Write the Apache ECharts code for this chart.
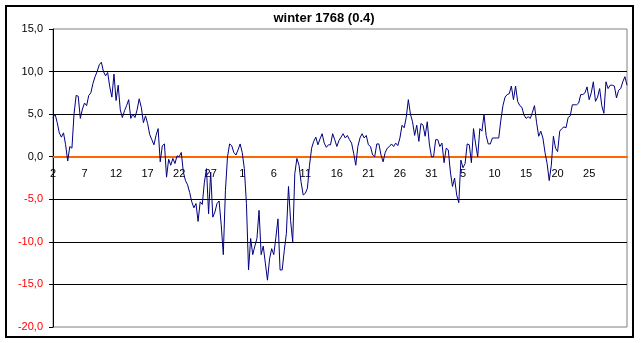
<!DOCTYPE html>
<html>
<head>
<meta charset="utf-8">
<script src="https://cdn.jsdelivr.net/npm/echarts@6/dist/echarts.min.js"></script>
<style>
  html, body { margin: 0; padding: 0; background: #fff; }
  #chart { width: 642px; height: 343px; }
</style>
</head>
<body>
<div id="chart"></div>
<script>
const chartTitle = "winter 1768 (0.4)";

// three readings a day, starting 2 December
const months = [
  { start: 2, days: 31 },
  { start: 1, days: 31 },
  { start: 1, days: 29 },
  { start: 1, days: 31 }
];
const readingsPerDay = 3;
const labelEvery = 15;

const temps = [
  4.6, 5.0, 4.0, 2.8, 2.3, 2.8, 1.4, -0.5, 1.2, 1.0,
  5.0, 7.2, 7.1, 4.5, 5.6, 6.3, 6.0, 7.2, 7.5, 8.6,
  9.4, 10.0, 10.8, 11.1, 10.0, 9.5, 9.9, 8.2, 7.0, 9.7,
  6.6, 8.4, 5.5, 4.6, 5.4, 6.0, 6.7, 4.5, 5.0, 4.6,
  5.5, 6.8, 5.8, 4.0, 4.8, 3.9, 2.6, 2.0, 1.4, 2.5,
  3.3, -0.6, 1.3, 1.5, -2.4, -0.3, -1.0, -0.2, -0.8, 0.1,
  0.0, 0.5, -1.8, -2.8, -3.3, -4.2, -5.3, -6.0, -5.5, -7.6,
  -5.3, -5.6, -3.0, -1.4, -6.7, -1.8, -7.1, -6.5, -5.5, -5.2,
  -8.0, -11.5, -4.0, 0.0, 1.5, 1.3, 0.5, 0.2, 0.8, 1.5,
  0.5, -1.4, -5.5, -13.3, -9.6, -11.5, -10.5, -9.6, -6.3, -11.5,
  -10.5, -12.5, -14.5, -12.0, -10.8, -11.5, -9.5, -7.3, -13.3, -13.3,
  -11.0, -9.0, -3.5, -7.5, -10.0, -2.0, -0.2, -1.0, -3.0, -4.5,
  -4.3, -3.7, -1.0, 1.0, 1.8, 2.3, 1.4, 2.1, 2.7, 1.6,
  1.1, 1.4, 1.4, 2.7, 2.0, 1.2, 1.9, 2.3, 2.7, 2.2,
  2.5, 2.0, 1.6, 0.4, -1.0, 1.2, 2.2, 2.7, 2.2, 2.5,
  1.4, 1.2, 0.2, 0.0, 1.5, 1.5, 0.2, -0.6, 0.5, 1.0,
  1.2, 1.5, 1.2, 1.6, 1.3, 2.2, 3.7, 3.4, 4.6, 6.7,
  5.0, 4.1, 2.5, 3.7, 1.8, 3.9, 3.7, 2.4, 4.1, 1.5,
  0.0, 0.0, 2.0, 2.0, 1.2, 1.6, -0.7, 1.0, 0.8, -1.8,
  -3.5, -2.5, -4.5, -5.4, -0.4, -1.3, -0.8, 1.5, 1.4, -0.7,
  3.3, 1.5, 0.0, 3.3, 3.0, 5.0, 2.5, 1.5, 1.5, 2.2,
  2.2, 2.2, 2.2, 4.3, 6.0, 7.0, 7.3, 7.4, 8.3, 6.7,
  8.3, 6.5, 6.0, 5.8, 4.9, 4.5, 4.7, 4.5, 5.2, 6.0,
  4.0, 2.4, 3.0, 2.2, 0.5, -0.8, -2.8, -1.0, 2.4, 1.0,
  0.6, 3.0, 3.3, 3.5, 3.4, 4.6, 4.8, 6.1, 6.1, 6.1,
  6.3, 7.3, 7.3, 7.5, 8.2, 6.7, 7.5, 8.8, 6.5, 7.0,
  8.0, 6.0, 5.1, 8.8, 8.0, 8.4, 8.4, 8.3, 6.9, 7.8,
  8.0, 8.8, 9.4, 8.4
];

const yMin = -20, yMax = 15, yStep = 5;

function buildDayLabels() {
  const out = [];
  months.forEach(m => {
    for (let d = m.start; d <= m.days; d++) {
      for (let k = 0; k < readingsPerDay; k++) out.push(String(d));
    }
  });
  return out.slice(0, temps.length);
}

const chart = echarts.init(document.getElementById("chart"));
const days = buildDayLabels();
const lastLabel = temps.length - 4;

// grid geometry, so the category axis can sit on the zero line
const gridTop = 29, gridBottom = 16;
const plotHeight = 343 - gridTop - gridBottom;
const zeroOffset = -plotHeight * (0 - yMin) / (yMax - yMin);

chart.setOption({
  animation: false,
  backgroundColor: "#fff",
  title: {
    text: chartTitle,
    left: 319,
    top: 7,
    textAlign: "center",
    textStyle: { fontFamily: "Arial, Liberation Sans", fontSize: 13, fontWeight: "bold", color: "#000" }
  },
  graphic: [{
    type: "rect",
    shape: { x: 6, y: 6, width: 627, height: 331 },
    style: { fill: null, stroke: "#000", lineWidth: 2 },
    silent: true
  }],
  grid: {
    left: 53, top: gridTop, right: 15, bottom: gridBottom,
    outerBoundsMode: "none",
    containLabel: false,
    show: true, borderColor: "#808080", borderWidth: 1
  },
  xAxis: {
    type: "category",
    data: days,
    boundaryGap: false,
    offset: zeroOffset,
    axisLine: { onZero: false, lineStyle: { color: "#ff6600", width: 2 } },
    axisTick: { show: false },
    axisLabel: {
      interval: (i) => i % labelEvery === 0 && i < lastLabel,
      margin: 12,
      color: "#000",
      fontFamily: "Arial, Liberation Sans",
      fontSize: 11
    },
    splitLine: { show: false }
  },
  yAxis: {
    type: "value",
    min: yMin,
    max: yMax,
    interval: yStep,
    axisLine: { show: true, onZero: false, lineStyle: { color: "#000", width: 1 } },
    axisTick: { show: true, length: 4, lineStyle: { color: "#000" } },
    axisLabel: {
      margin: 10,
      fontFamily: "Arial, Liberation Sans",
      fontSize: 11,
      formatter: v => v.toFixed(1).replace(".", ","),
      color: v => (v < 0 ? "#ff0000" : "#000")
    },
    splitLine: { show: true, showMinLine: false, showMaxLine: false, lineStyle: { color: "#000", width: 1 } }
  },
  series: [{
    type: "line",
    data: temps,
    showSymbol: false,
    lineStyle: { color: "#000080", width: 1 },
    z: 3
  }]
});
</script>
</body>
</html>
